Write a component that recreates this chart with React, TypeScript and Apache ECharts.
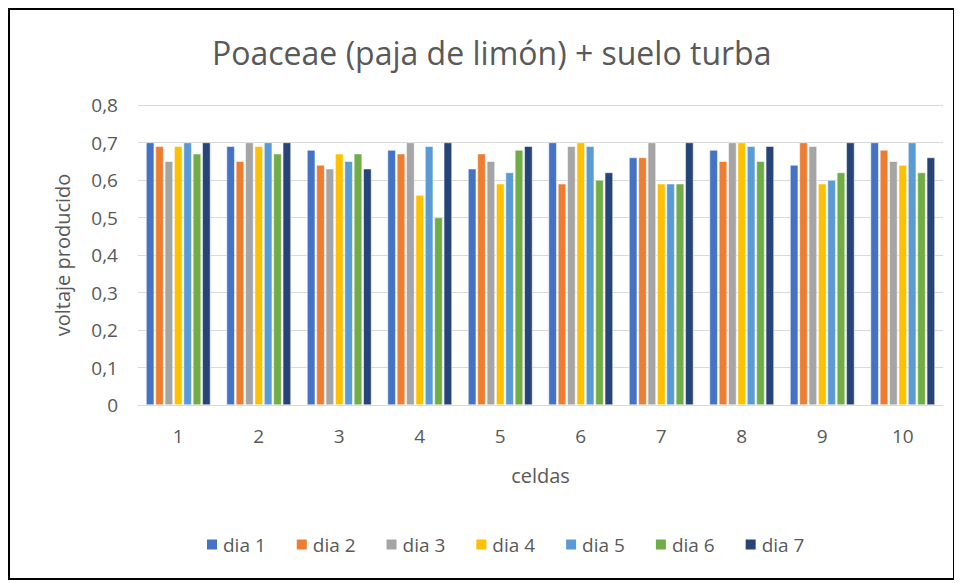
import React, { useEffect, useRef } from "react";
import * as echarts from "echarts";

const categories = ["1", "2", "3", "4", "5", "6", "7", "8", "9", "10"];
const seriesNames = ["dia 1", "dia 2", "dia 3", "dia 4", "dia 5", "dia 6", "dia 7"];
const dia1 = [0.70, 0.69, 0.68, 0.68, 0.63, 0.70, 0.66, 0.68, 0.64, 0.70];
const dia2 = [0.69, 0.65, 0.64, 0.67, 0.67, 0.59, 0.66, 0.65, 0.70, 0.68];
const dia3 = [0.65, 0.70, 0.63, 0.70, 0.65, 0.69, 0.70, 0.70, 0.69, 0.65];
const dia4 = [0.69, 0.69, 0.67, 0.56, 0.59, 0.70, 0.59, 0.70, 0.59, 0.64];
const dia5 = [0.70, 0.70, 0.65, 0.69, 0.62, 0.69, 0.59, 0.69, 0.60, 0.70];
const dia6 = [0.67, 0.67, 0.67, 0.50, 0.68, 0.60, 0.59, 0.65, 0.62, 0.62];
const dia7 = [0.70, 0.70, 0.63, 0.70, 0.69, 0.62, 0.70, 0.69, 0.70, 0.66];
const colors = ["#4472C4", "#ED7D31", "#A5A5A5", "#FFC000", "#5B9BD5", "#70AD47", "#264478"];

const FONT = "'Open Sans', sans-serif";

export default function App() {
  const ref = useRef<HTMLDivElement>(null);
  useEffect(() => {
    if (!ref.current) return;
    const chart = echarts.init(ref.current, undefined, { renderer: "svg" });
    const data = [dia1, dia2, dia3, dia4, dia5, dia6, dia7];
    chart.setOption({
      animation: false,
      color: colors,
      title: {
        text: "Poaceae (paja de limón) + suelo turba",
        left: 197,
        top: 21,
        textStyle: { fontFamily: FONT, fontSize: 32, fontWeight: "normal", color: "#595959" },
      },
      legend: {
        bottom: 19,
        left: 190,
        itemWidth: 12,
        itemHeight: 12,
        itemGap: 29,
        icon: "rect",
        textStyle: { fontFamily: FONT, fontSize: 19, color: "#595959" },
        data: seriesNames,
      },
      grid: { left: 128, right: 10, top: 95, bottom: 173 },
      xAxis: {
        type: "category",
        data: categories,
        name: "celdas",
        nameLocation: "middle",
        nameGap: 60,
        nameTextStyle: { fontFamily: FONT, fontSize: 20, color: "#595959" },
        axisLine: { lineStyle: { color: "#d9d9d9" } },
        axisTick: { show: false },
        axisLabel: { fontFamily: FONT, fontSize: 19, color: "#595959", margin: 21 },
      },
      yAxis: {
        type: "value",
        min: 0,
        max: 0.8,
        interval: 0.1,
        name: "voltaje producido",
        nameLocation: "middle",
        nameGap: 66,
        nameTextStyle: { fontFamily: FONT, fontSize: 20, color: "#595959" },
        axisLine: { show: false },
        axisTick: { show: false },
        splitLine: { lineStyle: { color: "#d9d9d9" } },
        axisLabel: {
          fontFamily: FONT,
          fontSize: 19,
          color: "#595959",
          margin: 20,
          formatter: (v: number) => (Math.round(v * 10) / 10).toString().replace(".", ","),
        },
      },
      series: seriesNames.map((n, i) => ({
        name: n,
        type: "bar",
        data: data[i],
        barGap: "15%",
        barCategoryGap: "20%",
        itemStyle: { borderColor: "#ffffff", borderWidth: 0.5 },
      })),
    });
    return () => chart.dispose();
  }, []);
  return (
    <div
      style={{
        width: 947,
        height: 572,
        border: "2px solid #000",
        boxSizing: "border-box",
        position: "relative",
        background: "#fff",
      }}
    >
      <div ref={ref} style={{ position: "absolute", left: 0, top: 0, width: 943, height: 568 }} />
    </div>
  );
}
